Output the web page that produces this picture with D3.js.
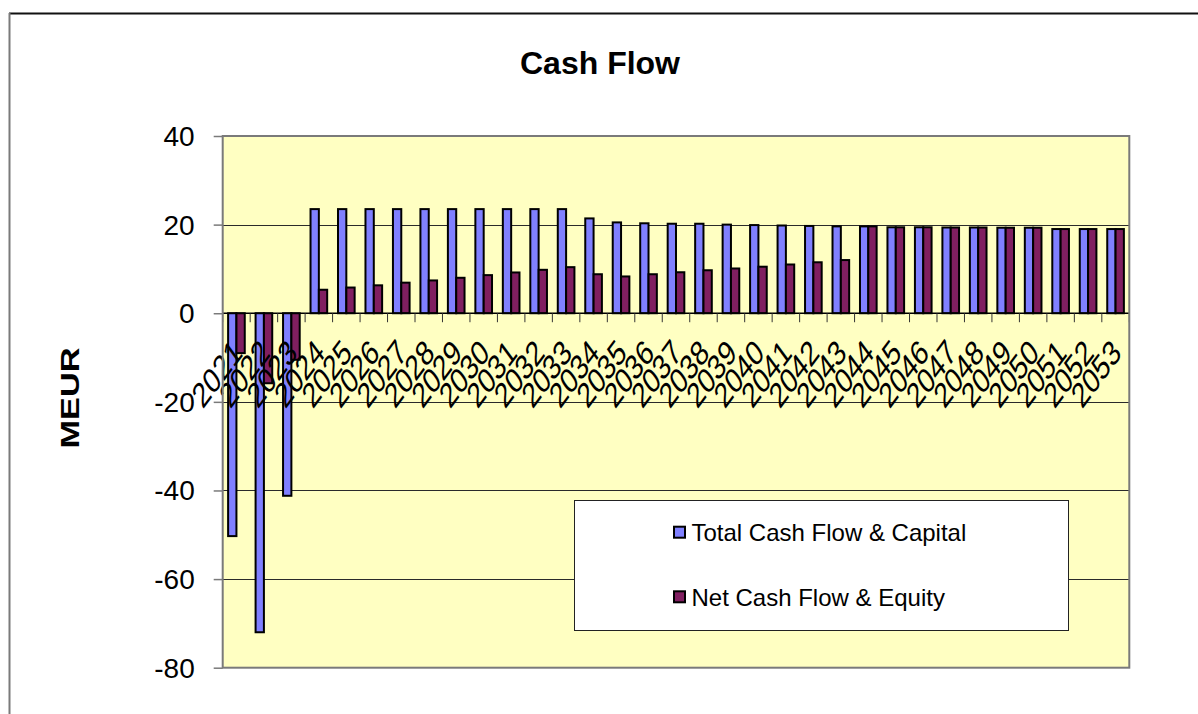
<!DOCTYPE html>
<html>
<head>
<meta charset="utf-8">
<script src="https://cdn.jsdelivr.net/npm/d3@7"></script>
<style>
  html, body { margin: 0; padding: 0; background: #ffffff; }
  svg { display: block; font-family: Arial, "Liberation Sans", sans-serif; }
</style>
</head>
<body>
<svg id="chart" width="1198" height="714"></svg>
<script>
// Categories (years) and the two cash-flow series, in MEUR
const years = ["2021","2022","2023","2024","2025","2026","2027","2028","2029","2030",
  "2031","2032","2033","2034","2035","2036","2037","2038","2039","2040",
  "2041","2042","2043","2044","2045","2046","2047","2048","2049","2050",
  "2051","2052","2053"];

const totalCashFlow = [-50.3, -72.0, -41.2, 23.5, 23.5, 23.5, 23.5, 23.5, 23.5, 23.5,
  23.5, 23.5, 23.5, 21.4, 20.5, 20.3, 20.2, 20.2, 20.0, 19.9,
  19.8, 19.7, 19.6, 19.6, 19.4, 19.4, 19.35, 19.35, 19.3, 19.3,
  19.0, 19.0, 19.0];

const netCashFlow = [-9.0, -15.8, -10.5, 5.3, 5.8, 6.3, 6.9, 7.4, 8.0, 8.6,
  9.2, 9.8, 10.4, 8.8, 8.3, 8.8, 9.25, 9.7, 10.1, 10.5,
  11.0, 11.5, 12.0, 19.6, 19.4, 19.4, 19.35, 19.35, 19.3, 19.3,
  19.0, 19.0, 19.0];

const seriesNames = ["Total Cash Flow & Capital", "Net Cash Flow & Equity"];
const yTicks = [-80, -60, -40, -20, 0, 20, 40];

const colors = ["#8080ff", "#801f60"];

const svg = d3.select("#chart");

// Outer chart frame (runs off the right and bottom of the view)
svg.append("line").attr("x1", 9).attr("y1", 13.5).attr("x2", 1198).attr("y2", 13.5)
  .attr("stroke", "#111").attr("stroke-width", 2);
svg.append("line").attr("x1", 9.5).attr("y1", 13).attr("x2", 9.5).attr("y2", 714)
  .attr("stroke", "#7a7a7a").attr("stroke-width", 2);

// Title
svg.append("text")
  .attr("x", 600).attr("y", 63)
  .attr("text-anchor", "middle").attr("dominant-baseline", "central")
  .style("font-weight", "bold").style("font-size", "32px")
  .text("Cash Flow");

// Plot geometry
const plot = { left: 222.7, right: 1129.3, top: 136, bottom: 667.7 };

const x = d3.scaleBand()
  .domain(years)
  .range([plot.left, plot.right])
  .paddingInner(0.394)
  .paddingOuter(0.197);

const xSub = d3.scaleBand()
  .domain([0, 1])
  .range([0, x.bandwidth()]);

const y = d3.scaleLinear()
  .domain([-80, 40])
  .range([plot.bottom, plot.top]);

// Plot background
svg.append("rect")
  .attr("x", plot.left).attr("y", plot.top)
  .attr("width", plot.right - plot.left).attr("height", plot.bottom - plot.top)
  .attr("fill", "#ffffc2");

// Horizontal gridlines
svg.append("g").selectAll("line")
  .data(yTicks.filter(t => t !== 40 && t !== -80 && t !== 0))
  .join("line")
  .attr("x1", plot.left).attr("x2", plot.right)
  .attr("y1", d => Math.round(y(d)) + 0.5).attr("y2", d => Math.round(y(d)) + 0.5)
  .attr("stroke", "#2a2a2a").attr("stroke-width", 1);

// Bars
const rows = years.map((yr, i) => ({ year: yr, values: [totalCashFlow[i], netCashFlow[i]] }));

const groups = svg.append("g").selectAll("g")
  .data(rows)
  .join("g")
  .attr("transform", d => `translate(${x(d.year)},0)`);

groups.selectAll("rect")
  .data(d => d.values.map((v, k) => ({ v, k })))
  .join("rect")
  .attr("x", d => xSub(d.k))
  .attr("width", xSub.bandwidth())
  .attr("y", d => Math.min(y(d.v), y(0)))
  .attr("height", d => Math.abs(y(d.v) - y(0)))
  .attr("fill", d => colors[d.k])
  .attr("stroke", "#000")
  .attr("stroke-width", 2);

// Category axis along zero with tick marks at the category boundaries
const zeroY = y(0);
svg.append("line")
  .attr("x1", plot.left).attr("x2", plot.right)
  .attr("y1", zeroY).attr("y2", zeroY)
  .attr("stroke", "#000").attr("stroke-width", 1.5);

const step = x.step();
svg.append("g").selectAll("line")
  .data(d3.range(years.length + 1))
  .join("line")
  .attr("x1", i => plot.left + i * step).attr("x2", i => plot.left + i * step)
  .attr("y1", zeroY).attr("y2", zeroY + 9)
  .attr("stroke", "#333").attr("stroke-width", 1);

// Rotated year labels (tall, tightly packed)
svg.append("g").selectAll("text")
  .data(years)
  .join("text")
  .attr("transform", d => `translate(${x(d) + x.bandwidth() / 2 + 1},${zeroY + 33}) scale(1,1.35) rotate(-45)`)
  .attr("text-anchor", "end")
  .attr("dominant-baseline", "central")
  .style("font-size", "26px")
  .text(d => d);

// Value axis
const yAxis = d3.axisLeft(y).tickValues(yTicks).tickSize(9).tickPadding(20).tickFormat(d => String(d));
const yg = svg.append("g").attr("transform", `translate(${plot.left},0)`).call(yAxis);
yg.select(".domain").remove();
yg.selectAll(".tick line").attr("stroke", "#7a7a7a").attr("stroke-width", 1.5);
yg.selectAll(".tick text")
  .attr("x", -28)
  .attr("dy", null)
  .attr("dominant-baseline", "central")
  .style("font-size", "28px")
  .style("font-family", "Arial, 'Liberation Sans', sans-serif")
  .attr("fill", "#000");

// Plot border (gray)
svg.append("rect")
  .attr("x", plot.left).attr("y", plot.top)
  .attr("width", plot.right - plot.left).attr("height", plot.bottom - plot.top)
  .attr("fill", "none").attr("stroke", "#7a7a7a").attr("stroke-width", 2);

// Axis title
svg.append("text")
  .attr("transform", `translate(70,398) rotate(-90)`)
  .attr("text-anchor", "middle").attr("dominant-baseline", "central")
  .style("font-weight", "bold").style("font-size", "26px")
  .attr("textLength", 101).attr("lengthAdjust", "spacingAndGlyphs")
  .text("MEUR");

// Legend
const legend = svg.append("g");
legend.append("rect")
  .attr("x", 574.5).attr("y", 500.5).attr("width", 494).attr("height", 130)
  .attr("fill", "#ffffff").attr("stroke", "#222").attr("stroke-width", 1);

const legendRowsY = [532.7, 597.3];
seriesNames.forEach((name, k) => {
  legend.append("rect")
    .attr("x", 674).attr("y", legendRowsY[k] - 6)
    .attr("width", 11).attr("height", 11)
    .attr("fill", colors[k]).attr("stroke", "#000").attr("stroke-width", 2);
  legend.append("text")
    .attr("x", 691.5).attr("y", legendRowsY[k])
    .attr("dominant-baseline", "central")
    .style("font-size", "24px")
    .text(name);
});
</script>
</body>
</html>
